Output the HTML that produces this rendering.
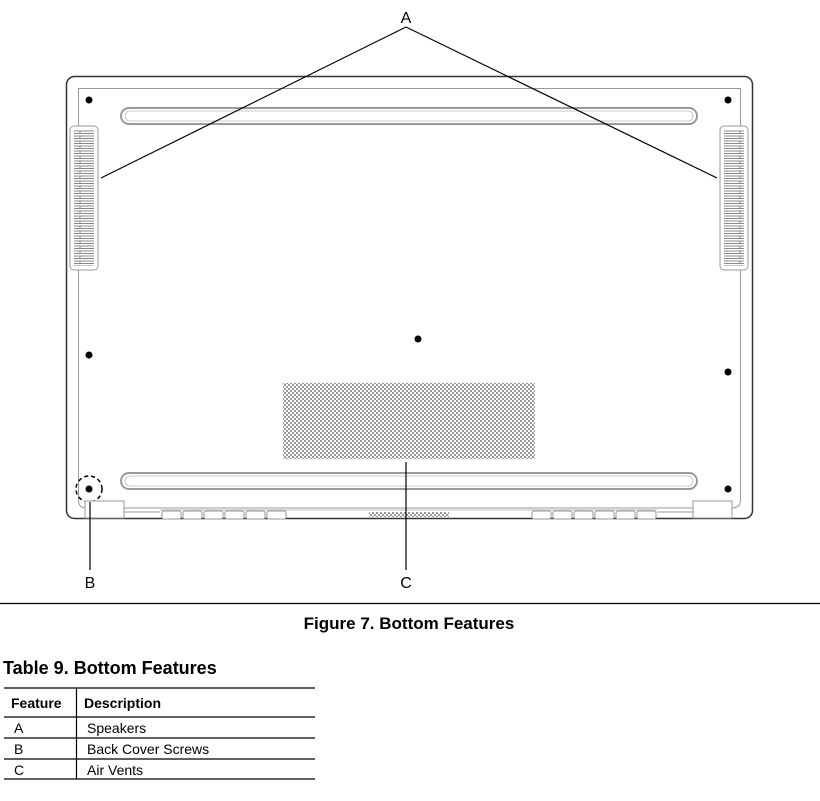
<!DOCTYPE html>
<html><head><style>
body{margin:0;background:#fff;width:820px;height:801px;overflow:hidden;font-family:"Liberation Sans",sans-serif}
svg{position:absolute;left:0;top:0}
</style></head><body>
<svg width="820" height="801" viewBox="0 0 820 801" font-family="Liberation Sans, sans-serif">
<defs>
<pattern id="chk" width="4" height="4" patternUnits="userSpaceOnUse">
<rect width="4" height="4" fill="#fff"/><rect width="2" height="2" fill="#999"/><rect x="2" y="2" width="2" height="2" fill="#999"/>
</pattern>
<pattern id="sp" width="20" height="5" patternUnits="userSpaceOnUse">
<rect x="0" y="1" width="20" height="2.5" fill="#fff" stroke="#888" stroke-width="1"/>
</pattern>
</defs>
<rect x="66.5" y="76.5" width="686" height="442" rx="8" fill="#fff" stroke="#333" stroke-width="1.5"/>
<path d="M78.5 88.5 H740.5 V500 Q740.5 508 732 508 H86 Q78.5 508 78.5 500 Z" fill="none" stroke="#999" stroke-width="1"/>
<rect x="121" y="108" width="576" height="16" rx="8" fill="none" stroke="#999" stroke-width="2"/>
<rect x="125" y="111" width="568" height="10" rx="5" fill="none" stroke="#bbb" stroke-width="0.8"/>
<rect x="121" y="473" width="576" height="16" rx="8" fill="none" stroke="#999" stroke-width="2"/>
<rect x="125" y="476" width="568" height="10" rx="5" fill="none" stroke="#bbb" stroke-width="0.8"/>
<rect x="70" y="126" width="28" height="144" rx="4" fill="#fff" stroke="#999"/>
<rect x="74" y="130" width="20" height="136" fill="url(#sp)"/>
<rect x="720" y="126" width="28" height="144" rx="4" fill="#fff" stroke="#999"/>
<rect x="724" y="130" width="20" height="136" fill="url(#sp)"/>
<g fill="#000"><circle cx="89" cy="100" r="3.5"/><circle cx="728" cy="100" r="3.5"/><circle cx="89" cy="355" r="3.5"/><circle cx="418" cy="339" r="3.5"/><circle cx="728" cy="372" r="3.5"/><circle cx="89" cy="489" r="3.5"/><circle cx="728" cy="489" r="3.5"/></g>
<circle cx="89" cy="489" r="13" fill="none" stroke="#000" stroke-width="1.5" stroke-dasharray="4,3"/>
<rect x="283" y="383" width="252" height="76" fill="url(#chk)"/>
<rect x="85" y="501" width="39" height="17" fill="#fff" stroke="#999"/>
<rect x="693" y="501" width="39" height="17" fill="#fff" stroke="#999"/>
<line x1="124" y1="512" x2="160" y2="512" stroke="#999"/>
<line x1="657" y1="512" x2="693" y2="512" stroke="#999"/>
<line x1="160" y1="510" x2="657" y2="510" stroke="#bbb"/>
<g fill="#fff" stroke="#999">
<rect x="162" y="511" width="19" height="8" rx="2"/><rect x="183" y="511" width="19" height="8" rx="2"/><rect x="204" y="511" width="19" height="8" rx="2"/><rect x="225" y="511" width="19" height="8" rx="2"/><rect x="246" y="511" width="19" height="8" rx="2"/><rect x="267" y="511" width="19" height="8" rx="2"/>
<rect x="532" y="511" width="19" height="8" rx="2"/><rect x="553" y="511" width="19" height="8" rx="2"/><rect x="574" y="511" width="19" height="8" rx="2"/><rect x="595" y="511" width="19" height="8" rx="2"/><rect x="616" y="511" width="19" height="8" rx="2"/><rect x="637" y="511" width="19" height="8" rx="2"/>
</g>
<rect x="369" y="512" width="80" height="5" fill="url(#chk)"/>
<g stroke="#000" stroke-width="1.2">
<line x1="406" y1="27" x2="101" y2="178"/><line x1="406" y1="27" x2="717" y2="178"/>
<line x1="90" y1="502" x2="90" y2="570"/><line x1="406" y1="462" x2="406" y2="570"/>
</g>
<g font-size="16" fill="#000" text-anchor="middle">
<text x="406" y="23">A</text><text x="90" y="588">B</text><text x="406" y="588">C</text>
</g>
<line x1="0" y1="603.5" x2="820" y2="603.5" stroke="#000" stroke-width="1.2"/>
<text x="409" y="629" font-size="17" font-weight="bold" text-anchor="middle">Figure 7.  Bottom Features</text>
<text x="3" y="674" font-size="18" font-weight="bold">Table 9.  Bottom Features</text>
<g stroke="#000" stroke-width="1.2">
<line x1="4" y1="688" x2="315" y2="688"/><line x1="4" y1="717" x2="315" y2="717"/><line x1="4" y1="738" x2="315" y2="738"/><line x1="4" y1="759" x2="315" y2="759"/><line x1="4" y1="779" x2="315" y2="779"/>
<line x1="76.5" y1="688" x2="76.5" y2="779"/>
</g>
<g font-size="14" fill="#000">
<text x="11" y="708" font-weight="bold">Feature</text><text x="84" y="708" font-weight="bold">Description</text>
<text x="14" y="733">A</text><text x="87" y="733">Speakers</text>
<text x="14" y="754">B</text><text x="87" y="754">Back Cover Screws</text>
<text x="14" y="775">C</text><text x="87" y="775">Air Vents</text>
</g>
</svg>
</body></html>
